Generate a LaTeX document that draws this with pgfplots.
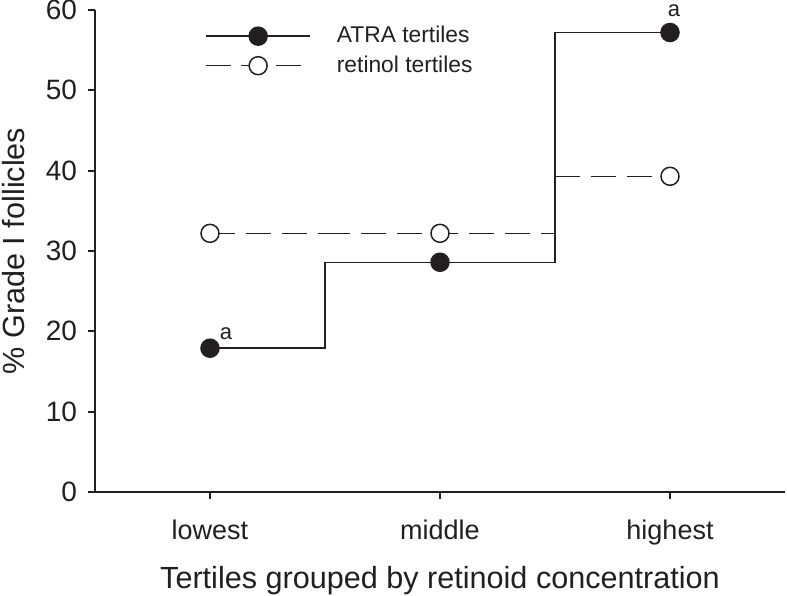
\documentclass[border=0pt]{standalone}
\usepackage{pgfplots}
\pgfplotsset{compat=1.18}
\usepackage{fontspec}
\setmainfont{Liberation Sans}
\definecolor{ink}{HTML}{231F20}
\begin{document}
\begin{tikzpicture}
\begin{axis}[
  at={(0,0)}, anchor=south west,
  scale only axis, width=345pt, height=241pt,
  xmin=-0.5, xmax=2.5, ymin=0, ymax=60,
  clip=false,
  axis x line*=bottom, axis y line*=left,
  axis line style={-, ink, line width=0.9pt},
  tick style={ink, line width=0.9pt},
  tick align=outside, major tick length=3.5pt,
  xtick={0,1,2}, xticklabels={lowest,middle,highest},
  ytick={0,10,20,30,40,50,60},
  /pgf/number format/assume math mode=true,
  xticklabel style={font=\fontsize{13.5}{16}\selectfont, text=ink, yshift=-7pt},
  yticklabel style={font=\fontsize{14}{16}\selectfont, text=ink, xshift=-2pt},
  xlabel={Tertiles grouped by retinoid concentration},
  ylabel={\% Grade I follicles},
  label style={font=\fontsize{15.3}{18}\selectfont, text=ink},
  xlabel style={at={(axis description cs:0.5,0)}, anchor=base, yshift=-48pt},
  ylabel style={at={(axis description cs:0,0.5)}, anchor=north, yshift=46.5pt, inner sep=0pt},
  legend style={draw=none, fill=none, at={(axis description cs:0,1)}, anchor=north west,
    xshift=52pt, yshift=-4pt, font=\fontsize{11.4}{13}\selectfont, text=ink,
    row sep=1pt, legend cell align=left,
    /tikz/every odd column/.append style={column sep=11pt}},
  legend image code/.code={\draw[mark repeat=2,mark phase=2,#1] plot coordinates {(0pt,0pt) (26pt,0pt) (52pt,0pt)};},
]
\addplot[ink, line width=0.75pt, const plot mark mid, mark=*, mark size=4.5pt, mark options={solid, fill=ink, draw=ink}]
  coordinates {(0,17.9) (1,28.6) (2,57.2)};
\addlegendentry{ATRA tertiles}
\addplot[ink, line width=0.75pt, dash pattern=on 12.5pt off 5.5pt, jump mark mid, mark=*, mark size=4.5pt, mark options={solid, fill=white, draw=ink},
  legend image code/.code={%
    \draw[ink, line width=0.75pt] (0pt,0pt) -- (12.5pt,0pt) (17.5pt,0pt) -- (26pt,0pt) (35pt,0pt) -- (47.5pt,0pt);
    \draw[draw=none, mark=*, mark size=4.5pt, mark options={solid, fill=white, draw=ink, line width=0.75pt}, mark repeat=2, mark phase=2] plot coordinates {(0pt,0pt) (26pt,0pt) (52pt,0pt)};}]
  coordinates {(0,32.2) (1,32.2) (2,39.3)};
\addlegendentry{retinol tertiles}
\node[text=ink, font=\fontsize{11}{13}\selectfont] at (axis cs:0,17.9) [xshift=8pt, yshift=7.5pt] {a};
\node[text=ink, font=\fontsize{11}{13}\selectfont] at (axis cs:2,57.2) [xshift=2pt, yshift=11pt] {a};
\end{axis}
\pgfresetboundingbox
\path[use as bounding box] (-47.5pt,-51.5pt) rectangle (346pt,246pt);
\end{tikzpicture}
\end{document}
